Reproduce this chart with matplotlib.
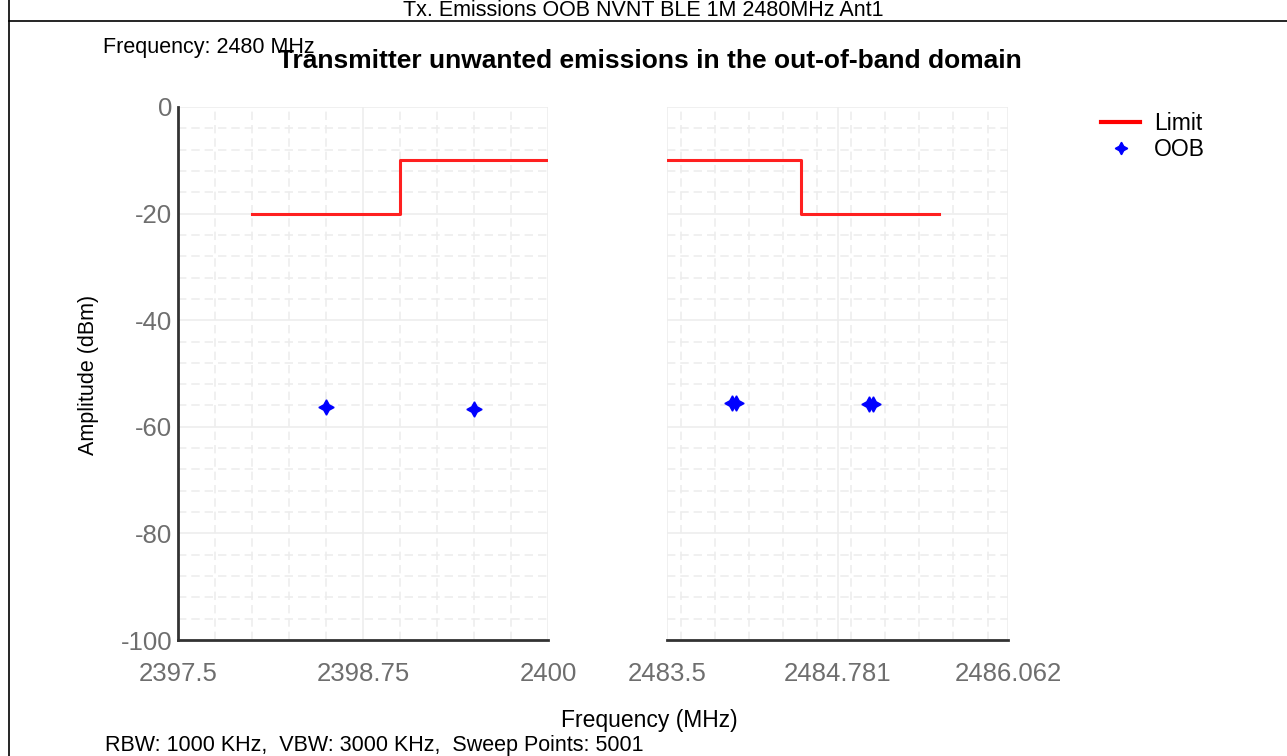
import matplotlib
matplotlib.use("Agg")
import matplotlib.pyplot as plt
from matplotlib.ticker import MultipleLocator
from matplotlib.lines import Line2D

plt.rcParams['font.family'] = ['Liberation Sans', 'DejaVu Sans']
plt.rcParams['axes.unicode_minus'] = False

# ---- data ----
header = "Tx. Emissions OOB NVNT BLE 1M 2480MHz Ant1"
title = "Transmitter unwanted emissions in the out-of-band domain"
freq_note = "Frequency: 2480 MHz"
footer = "RBW: 1000 KHz,  VBW: 3000 KHz,  Sweep Points: 5001"

left_xlim = [2397.5, 2400.0]
right_xlim = [2483.5, 2486.062]
left_ticks = [2397.5, 2398.75, 2400]
left_ticklabels = ["2397.5", "2398.75", "2400"]
right_ticks = [2483.5, 2484.781, 2486.062]
right_ticklabels = ["2483.5", "2484.781", "2486.062"]
y_ticks = [0, -20, -40, -60, -80, -100]

limit_left_x = [2398.0, 2399.0, 2399.0, 2400.0]
limit_left_y = [-20, -20, -10, -10]
limit_right_x = [2483.5, 2484.51, 2484.51, 2485.54]
limit_right_y = [-10, -10, -20, -20]

oob_left_x = [2398.5, 2399.5]
oob_left_y = [-56.2, -56.7]
oob_right_x = [2483.985, 2484.015, 2485.015, 2485.045]
oob_right_y = [-55.6, -55.6, -55.7, -55.7]

W, H = 1287, 756
fig = plt.figure(figsize=(W / 100, H / 100), dpi=100)

def fx(px):
    return px / W

def fy(py):
    return 1 - py / H

ax1 = fig.add_axes([fx(178), fy(640), fx(548 - 178), fy(107) - fy(640)])
ax2 = fig.add_axes([fx(667), fy(640), fx(1008 - 667), fy(107) - fy(640)])

grid_c = '#ededed'
tick_c = '#6e6e6e'
for ax, xl, xt, xtl, minor in [(ax1, left_xlim, left_ticks, left_ticklabels, 0.25),
                               (ax2, right_xlim, right_ticks, right_ticklabels, 0.2562)]:
    ax.set_xlim(xl)
    ax.set_ylim(-100, 0)
    ax.set_xticks(xt)
    ax.set_xticklabels(xtl)
    ax.xaxis.set_minor_locator(MultipleLocator(minor))
    ax.set_yticks(y_ticks)
    ax.yaxis.set_minor_locator(MultipleLocator(4))
    ax.grid(which='major', color=grid_c, lw=1.2, ls='-')
    ax.grid(which='minor', color=grid_c, lw=1.2, ls=(0, (5, 3)))
    ax.set_axisbelow(True)
    ax.tick_params(which='both', length=0, labelsize=18.5, colors=tick_c, pad=16)
    for s in ['top', 'right']:
        ax.spines[s].set_visible(False)
    ax.spines['bottom'].set_color('#333333')
    ax.spines['bottom'].set_linewidth(2)

ax1.spines['left'].set_color('#333333')
ax1.spines['left'].set_linewidth(2)
ax1.tick_params(axis='y', pad=4)
ax2.spines['left'].set_visible(False)
ax2.tick_params(axis='y', labelleft=False)

red = '#ff2020'
blue = '#0000ff'
star = (4, 1, 0)
ax1.plot(limit_left_x, limit_left_y, color=red, lw=2.2, zorder=3)
ax2.plot(limit_right_x, limit_right_y, color=red, lw=2.2, zorder=3)
ax1.plot(oob_left_x, oob_left_y, ls='none', marker=star, ms=11, color=blue, zorder=4)
ax2.plot(oob_right_x, oob_right_y, ls='none', marker=star, ms=11, color=blue, zorder=4)

# legend
handles = [Line2D([], [], color='red', lw=3),
           Line2D([], [], ls='none', marker=star, ms=9, color=blue)]
fig.legend(handles, ['Limit', 'OOB'], loc='upper left',
           bbox_to_anchor=(fx(1092), fy(103)), frameon=False,
           fontsize=16.5, handlelength=1.7, handletextpad=0.6,
           labelspacing=0.12, borderaxespad=0)

# texts
fig.text(fx(643), fy(10), header, ha='center', va='center', fontsize=15.5)
fig.text(fx(650), fy(61), title, ha='center', va='center', fontsize=19, fontweight='bold')
fig.text(fx(103), fy(48), freq_note, ha='left', va='center', fontsize=15.5)
fig.text(fx(649), fy(720), "Frequency (MHz)", ha='center', va='center', fontsize=16.5)
fig.text(fx(88), fy(375), "Amplitude (dBm)", ha='center', va='center', fontsize=15.5, rotation=90)
fig.text(fx(105), fy(745), footer, ha='left', va='center', fontsize=15.5)

# frame lines
fig.add_artist(Line2D([fx(9), fx(9)], [0, 1], color='black', lw=1.2, transform=fig.transFigure))
fig.add_artist(Line2D([fx(9), 1], [fy(21), fy(21)], color='black', lw=1.2, transform=fig.transFigure))

fig.savefig('out.png', dpi=100)
